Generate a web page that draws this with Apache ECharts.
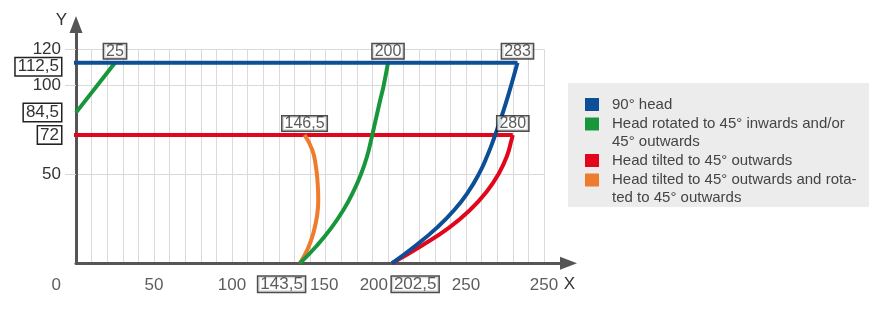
<!DOCTYPE html>
<html><head><meta charset="utf-8">
<script src="https://cdn.jsdelivr.net/npm/echarts@6/dist/echarts.min.js"></script>
<style>html,body{margin:0;padding:0;background:#fff}#c{width:885px;height:321px}</style>
</head><body><div id="c"></div>
<script>
// ---- data ----
const xMax = 300, yMax = 120, gridStep = 10;
const seriesNames = ['90° head', 'Head rotated to 45° inwards and/or 45° outwards', 'Head tilted to 45° outwards', 'Head tilted to 45° outwards and rotated to 45° outwards'];
const legendTexts = ['90° head', 'Head rotated to 45° inwards and/or\n45° outwards', 'Head tilted to 45° outwards', 'Head tilted to 45° outwards and rota-\nted to 45° outwards'];
const colors = ['#0c4f97', '#17963b', '#e2061c', '#ee7c2c'];

const blueTop = [[-7, 112.5], [283, 112.5]];
const blueCurve = [[283, 112.5], [279, 100], [275.6, 90], [271.9, 80], [267.9, 70], [263.5, 60], [258.2, 50], [251.4, 40], [242.6, 30], [231.4, 20], [217.8, 10], [202.5, 0]];
const greenLeft = [[0, 84.5], [25, 112.5]];
const greenCurve = [[143.5, 0], [154.5, 10], [163.8, 20], [171.5, 30], [177.7, 40], [182.7, 50], [186.6, 60], [189.4, 70], [192, 80], [194.6, 90], [197.3, 100], [200, 112.5]];
const redTop = [[-7, 72], [280, 72]];
const redCurve = [[280, 72], [279.4, 70], [276.2, 60], [270.8, 50], [263.1, 40], [252.7, 30], [239.2, 20], [221.8, 10], [202.5, 0]];
const orangeCurve = [[143.5, 0], [148.5, 8], [152.1, 16.8], [154.6, 27], [155.3, 35.5], [154.9, 45], [153.8, 54.2], [151.5, 63.5], [146.5, 72]];

const xTickValues = [0, 50, 100, 143.5, 150, 200, 202.5, 250, 300];
const xTickTexts = ['0', '50', '100', '143,5', '150', '200', '202,5', '250', '250'];
const xTickBoxed = [143.5, 202.5];
// y tick labels (listed so that close neighbours are not compared by the min/max-label overlap check)
const yTickValues = [50, 120, 72, 112.5, 84.5, 100];
const yTickBoxed = [72, 84.5, 112.5];
const endPoints = [greenLeft[1], greenCurve[greenCurve.length - 1], blueTop[1], redTop[1], orangeCurve[orangeCurve.length - 1]];

// ---- helpers ----
const FONT = "'Liberation Sans', Arial, sans-serif";
const fmt = v => String(v).replace('.', ',');
const boxStyle = { borderColor: '#222', borderWidth: 1.5, backgroundColor: '#fff', padding: [0, 2, 0, 2] };
const xAlign = { '0': ['right', -15], '143.5': ['right', 5], '150': ['left', 0], '200': ['right', 0], '202.5': ['left', 0] };
// a boxed y label with another label closely above it is nudged downward
const crowdedAbove = v => yTickValues.some(o => o > v && o - v < 10);

function lineSeries(name, data, color) {
  return {
    type: 'line', name, data, xAxisIndex: 0, yAxisIndex: 0,
    symbol: 'none', showSymbol: false, smooth: data.length > 2 ? 0.5 : false,
    clip: false, animation: false, silent: true,
    lineStyle: { color, width: 4 }, itemStyle: { color },
    emphasis: { disabled: true }, z: 3
  };
}

// legend icons: square aligned to first text line; invisible guide segments fix the icon box height
const iconOne = 'path://M0,8.5H14V21.5H0Z M0,0L14,0 M0,30L14,30';
const iconTwo = 'path://M0,0H14V13H0Z M0,30L14,30';

const option = {
  animation: false,
  textStyle: { fontFamily: FONT },
  grid: [
    { left: 76, right: 341, top: 49.3, bottom: 57.7 },
    { left: 76, right: 316.5, top: 24.5, bottom: 57.7 }
  ],
  xAxis: [
    { type: 'value', gridIndex: 0, min: 0, max: xMax, interval: gridStep,
      axisLine: { show: false }, axisTick: { show: false }, axisLabel: { show: false },
      splitLine: { show: true, lineStyle: { color: '#dadada', width: 1 } } },
    { type: 'value', gridIndex: 1, min: 0, max: 1, name: 'X', nameLocation: 'end', nameGap: 1,
      nameTextStyle: { fontSize: 17, color: '#333', align: 'center', verticalAlign: 'top', padding: [13, 0, 0, 0] },
      axisLine: { show: true, onZero: false, symbol: ['none', 'triangle'], symbolSize: [13, 17], lineStyle: { color: '#555', width: 3 } },
      axisTick: { show: false }, axisLabel: { show: false }, splitLine: { show: false } }
  ],
  yAxis: [
    { type: 'value', gridIndex: 0, min: 0, max: yMax, interval: gridStep,
      axisLine: { show: false },
      axisTick: { show: true, customValues: [50, 100, 120], length: 11, lineStyle: { color: '#d6d6d6' } },
      axisLabel: { show: true, customValues: yTickValues, margin: 15, fontSize: 17, color: '#333',
        hideOverlap: false,
        formatter: v => yTickBoxed.includes(v)
          ? (crowdedAbove(v) ? '{s| }\n{b|' + fmt(v) + '}' : '{b|' + fmt(v) + '}')
          : '{p|' + fmt(v) + '}',
        rich: {
          p: { fontSize: 17, lineHeight: 12, color: '#333' },
          s: { fontSize: 6, lineHeight: 8 },
          b: Object.assign({ fontSize: 17, lineHeight: 14, color: '#333' }, boxStyle)
        } },
      splitLine: { show: true, lineStyle: { color: '#dadada', width: 1 } } },
    { type: 'value', gridIndex: 1, min: 0, max: 1, name: 'Y', nameLocation: 'end', nameGap: 4.5,
      nameTextStyle: { fontSize: 17, color: '#333', align: 'right', verticalAlign: 'middle', padding: [0, 9, 0, 0] },
      axisLine: { show: true, onZero: false, symbol: ['none', 'triangle'], symbolSize: [13, 17], lineStyle: { color: '#555', width: 3 } },
      axisTick: { show: false }, axisLabel: { show: false }, splitLine: { show: false } }
  ],
  legend: {
    orient: 'vertical', left: 568, top: 83,
    padding: [6.5, 7, 0.5, 17], backgroundColor: '#ececec',
    itemWidth: 14, itemHeight: 30, itemGap: -5,
    itemStyle: { borderWidth: 0 },
    selectedMode: false,
    textStyle: { fontSize: 15, lineHeight: 18, color: '#444', width: 250, padding: [0, 0, 0, 8], fontFamily: FONT },
    data: seriesNames.map((n, i) => ({ name: n, icon: legendTexts[i].includes('\n') ? iconTwo : iconOne })),
    formatter: name => legendTexts[seriesNames.indexOf(name)]
  },
  series: [
    lineSeries(seriesNames[2], redTop, colors[2]),
    lineSeries(seriesNames[2], redCurve, colors[2]),
    lineSeries(seriesNames[3], orangeCurve, colors[3]),
    lineSeries(seriesNames[1], greenLeft, colors[1]),
    lineSeries(seriesNames[1], greenCurve, colors[1]),
    lineSeries(seriesNames[0], blueTop, colors[0]),
    lineSeries(seriesNames[0], blueCurve, colors[0]),
    {
      type: 'scatter', name: 'endLabels', xAxisIndex: 0, yAxisIndex: 0, silent: true, z: 5,
      symbolSize: 1, itemStyle: { color: 'rgba(0,0,0,0)' },
      data: endPoints,
      label: Object.assign({ show: true, position: 'top', distance: 4, fontSize: 16, lineHeight: 14, color: '#333',
        formatter: p => fmt(p.value[0]) }, boxStyle)
    },
    {
      type: 'scatter', name: 'xTicks', xAxisIndex: 0, yAxisIndex: 0, silent: true, z: 5,
      symbolSize: 1, itemStyle: { color: 'rgba(0,0,0,0)' },
      data: xTickValues.map((v, i) => {
        const a = xAlign[String(v)] || ['center', 0];
        const lab = { align: a[0], offset: [a[1], 0], formatter: xTickTexts[i] };
        if (xTickBoxed.includes(v)) Object.assign(lab, boxStyle, { lineHeight: 15 });
        return { value: [v, 0], label: lab };
      }),
      label: { show: true, position: 'bottom', distance: 13, fontSize: 17, lineHeight: 17, color: '#333' }
    }
  ]
};
const chart = echarts.init(document.getElementById('c'), null, { renderer: 'canvas' });
chart.setOption(option);
</script></body></html>
